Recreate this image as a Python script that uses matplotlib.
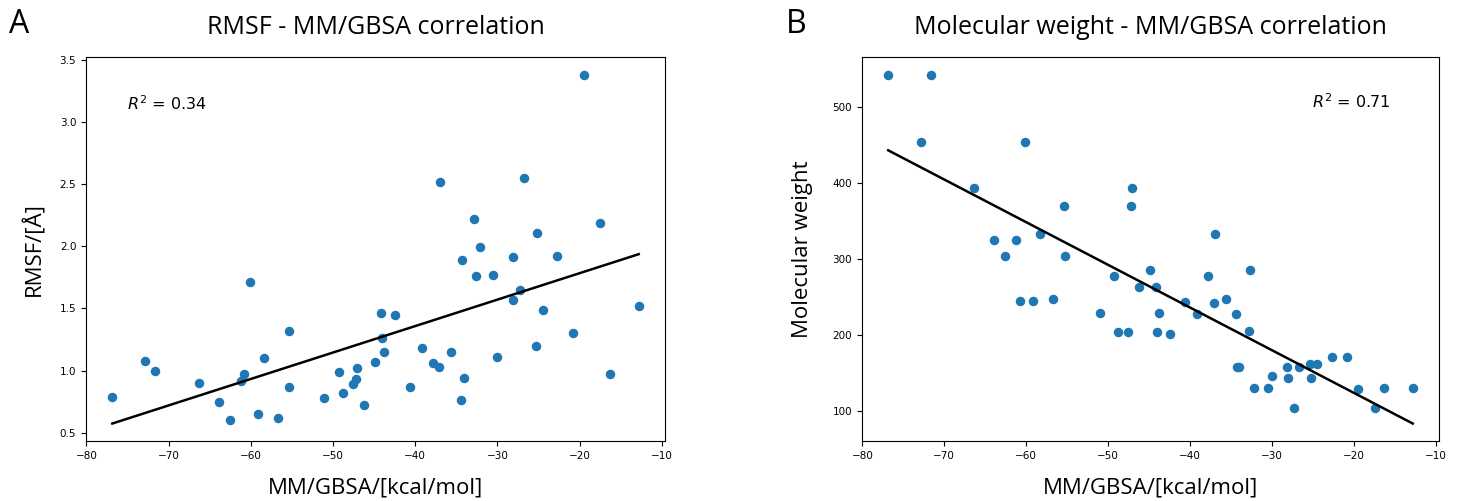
import numpy as np
import matplotlib
matplotlib.use("Agg")
import matplotlib.pyplot as plt

# MM/GBSA binding energies (shared by both panels)
mmgbsa = [-76.85, -72.9, -71.6, -66.35, -63.9, -62.55, -61.2, -60.8, -60.1, -59.15,
          -58.35, -56.75, -55.4, -55.3, -51.05, -49.3, -48.75, -47.55, -47.15, -47.05,
          -46.25, -44.85, -44.15, -44.0, -43.75, -42.45, -40.6, -39.15, -37.85, -37.05,
          -36.95, -35.6, -34.4, -34.3, -34.05, -32.85, -32.65, -32.15, -30.5, -30.0,
          -28.1, -28.05, -27.3, -26.75, -25.35, -25.2, -24.45, -22.7, -20.8, -19.45,
          -17.45, -16.3, -12.8]

rmsf = [0.79, 1.08, 1.00, 0.90, 0.75, 0.60, 0.92, 0.97, 1.71, 0.65,
        1.10, 0.62, 1.32, 0.87, 0.78, 0.99, 0.82, 0.89, 0.93, 1.02,
        0.72, 1.07, 1.46, 1.26, 1.15, 1.45, 0.87, 1.18, 1.06, 1.03,
        2.52, 1.15, 0.76, 1.89, 0.94, 2.22, 1.76, 1.99, 1.77, 1.11,
        1.91, 1.57, 1.65, 2.55, 1.20, 2.11, 1.49, 1.92, 1.30, 3.38,
        2.19, 0.97, 1.52]

mol_weight = [542, 454, 542, 393, 324, 303, 324, 244, 454, 244,
              332, 247, 369, 303, 229, 277, 204, 203, 369, 393,
              263, 285, 263, 203, 229, 201, 243, 227, 277, 242,
              332, 247, 227, 157, 157, 205, 285, 130, 130, 146,
              157, 143, 104, 157, 161, 143, 161, 171, 171, 128,
              104, 130, 130]

panels = ["A", "B"]
titles = ["RMSF - MM/GBSA correlation", "Molecular weight - MM/GBSA correlation"]
ylabels = ["RMSF/[\u00c5]", "Molecular weight"]
r2_texts = ["$R^2$ = 0.34", "$R^2$ = 0.71"]

label_font = "Open Sans"

fig = plt.figure(figsize=(14.6, 5.01), dpi=100)
ax1 = fig.add_axes([0.0589, 0.1198, 0.3966, 0.766])
ax2 = fig.add_axes([0.5904, 0.1198, 0.3952, 0.766])

x = np.array(mmgbsa)
for ax, y, title, ylab, r2, r2pos, ypad in zip(
        [ax1, ax2], [rmsf, mol_weight], titles, ylabels, r2_texts,
        [(0.071, 0.88), (0.78, 0.885)], [10, 14]):
    y = np.array(y)
    ax.scatter(x, y, s=34, color="#1f77b4", zorder=2)
    k, b = np.polyfit(x, y, 1)
    xs = np.array([x.min(), x.max()])
    ax.plot(xs, k * xs + b, color="black", lw=1.8, zorder=3)
    ax.set_title(title, fontsize=18, family=label_font, pad=17)
    ax.set_xlabel("MM/GBSA/[kcal/mol]", fontsize=16, family=label_font, labelpad=12)
    ax.set_ylabel(ylab, fontsize=16, family=label_font, labelpad=ypad)
    ax.tick_params(labelsize=7.5)
    ax.text(r2pos[0], r2pos[1], r2, transform=ax.transAxes, fontsize=11.5,
            va="center", ha="left")

fig.text(0.006, 0.952, panels[0], fontsize=23, family=label_font, va="center")
fig.text(0.538, 0.952, panels[1], fontsize=23, family=label_font, va="center")

fig.savefig("out.png", dpi=100)
